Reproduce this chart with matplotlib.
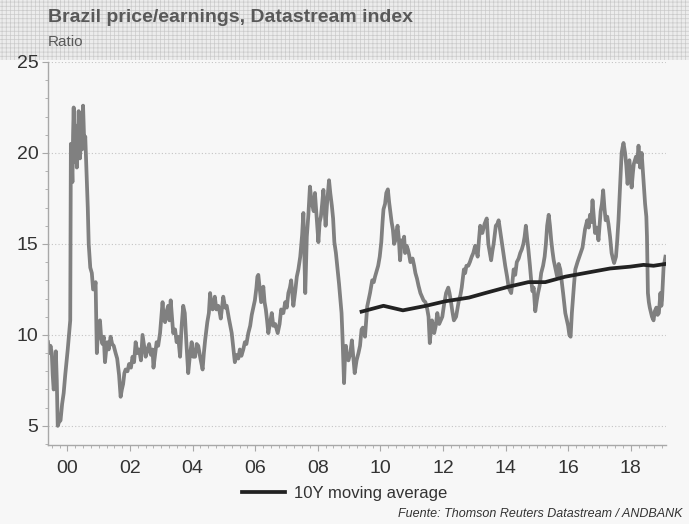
import matplotlib
matplotlib.use("Agg")
import matplotlib.pyplot as plt
from matplotlib.patches import Rectangle
from matplotlib.ticker import MultipleLocator, FixedLocator

plt.rcParams['font.family'] = ['Liberation Sans', 'DejaVu Sans']
plt.rcParams['hatch.linewidth'] = 0.5

# P/E ratio (decimal year, value)
pe_years = [
    1999.38, 1999.42, 1999.46, 1999.50, 1999.53, 1999.56, 1999.60, 1999.63, 1999.66, 1999.69,
    1999.73, 1999.78, 1999.83, 1999.88, 1999.93, 1999.97, 2000.01, 2000.05, 2000.09, 2000.11,
    2000.14, 2000.16, 2000.18, 2000.20, 2000.23, 2000.27, 2000.30, 2000.33, 2000.36, 2000.40,
    2000.44, 2000.47, 2000.50, 2000.54, 2000.57, 2000.61, 2000.65, 2000.68, 2000.73, 2000.78,
    2000.82, 2000.86, 2000.90, 2000.94, 2000.97, 2000.99, 2001.04, 2001.08, 2001.12, 2001.16,
    2001.20, 2001.24, 2001.27, 2001.32, 2001.38, 2001.43, 2001.48, 2001.54, 2001.59, 2001.65,
    2001.70, 2001.74, 2001.78, 2001.82, 2001.86, 2001.92, 2001.97, 2002.03, 2002.08, 2002.13,
    2002.18, 2002.24, 2002.29, 2002.35, 2002.40, 2002.45, 2002.50, 2002.56, 2002.61, 2002.67,
    2002.72, 2002.75, 2002.80, 2002.85, 2002.90, 2002.96, 2003.04, 2003.08, 2003.12, 2003.17,
    2003.22, 2003.26, 2003.30, 2003.34, 2003.38, 2003.44, 2003.49, 2003.54, 2003.60, 2003.65,
    2003.70, 2003.75, 2003.80, 2003.86, 2003.91, 2003.97, 2004.02, 2004.08, 2004.13, 2004.18,
    2004.25, 2004.32, 2004.36, 2004.40, 2004.47, 2004.52, 2004.56, 2004.60, 2004.64, 2004.71,
    2004.76, 2004.82, 2004.86, 2004.90, 2004.98, 2005.04, 2005.09, 2005.16, 2005.25, 2005.30,
    2005.35, 2005.40, 2005.46, 2005.51, 2005.56, 2005.62, 2005.67, 2005.72, 2005.78, 2005.84,
    2005.89, 2005.94, 2005.99, 2006.04, 2006.07, 2006.10, 2006.13, 2006.19, 2006.26, 2006.30,
    2006.34, 2006.38, 2006.42, 2006.47, 2006.53, 2006.58, 2006.64, 2006.72, 2006.78, 2006.83,
    2006.90, 2006.96, 2007.01, 2007.06, 2007.11, 2007.15, 2007.22, 2007.28, 2007.33, 2007.38,
    2007.44, 2007.50, 2007.54, 2007.57, 2007.60, 2007.63, 2007.65, 2007.70, 2007.75, 2007.79,
    2007.83, 2007.87, 2007.91, 2007.96, 2008.02, 2008.06, 2008.10, 2008.14, 2008.18, 2008.22,
    2008.25, 2008.30, 2008.36, 2008.40, 2008.45, 2008.49, 2008.53, 2008.58, 2008.63, 2008.68,
    2008.72, 2008.76, 2008.79, 2008.84, 2008.87, 2008.90, 2008.94, 2008.98, 2009.04, 2009.09,
    2009.14, 2009.18, 2009.24, 2009.30, 2009.35, 2009.40, 2009.44, 2009.51, 2009.58, 2009.62,
    2009.67, 2009.74, 2009.79, 2009.83, 2009.88, 2009.93, 2009.98, 2010.03, 2010.07, 2010.10,
    2010.15, 2010.19, 2010.24, 2010.28, 2010.31, 2010.36, 2010.40, 2010.44, 2010.48, 2010.52,
    2010.55, 2010.59, 2010.63, 2010.68, 2010.72, 2010.76, 2010.79, 2010.84, 2010.88, 2010.92,
    2010.96, 2011.03, 2011.08, 2011.12, 2011.17, 2011.22, 2011.28, 2011.33, 2011.38, 2011.44,
    2011.50, 2011.54, 2011.58, 2011.62, 2011.65, 2011.72, 2011.77, 2011.82, 2011.88, 2011.93,
    2011.98, 2012.03, 2012.10, 2012.17, 2012.21, 2012.25, 2012.30, 2012.35, 2012.42, 2012.46,
    2012.51, 2012.56, 2012.60, 2012.67, 2012.71, 2012.75, 2012.81, 2012.86, 2012.92, 2012.97,
    2013.03, 2013.11, 2013.15, 2013.19, 2013.26, 2013.33, 2013.40, 2013.45, 2013.50, 2013.54,
    2013.58, 2013.62, 2013.69, 2013.74, 2013.78, 2013.84, 2013.89, 2013.94, 2013.99, 2014.05,
    2014.10, 2014.18, 2014.22, 2014.26, 2014.31, 2014.36, 2014.42, 2014.47, 2014.52, 2014.57,
    2014.61, 2014.65, 2014.69, 2014.73, 2014.78, 2014.82, 2014.86, 2014.90, 2014.95, 2015.00,
    2015.04, 2015.09, 2015.14, 2015.20, 2015.25, 2015.29, 2015.33, 2015.38, 2015.42, 2015.46,
    2015.50, 2015.54, 2015.60, 2015.65, 2015.70, 2015.75, 2015.80, 2015.84, 2015.88, 2015.91,
    2015.96, 2016.00, 2016.04, 2016.08, 2016.12, 2016.15, 2016.19, 2016.23, 2016.30, 2016.38,
    2016.46, 2016.50, 2016.54, 2016.61, 2016.66, 2016.70, 2016.74, 2016.78, 2016.82, 2016.86,
    2016.92, 2016.97, 2017.00, 2017.04, 2017.08, 2017.12, 2017.16, 2017.20, 2017.25, 2017.29,
    2017.34, 2017.39, 2017.43, 2017.47, 2017.53, 2017.57, 2017.61, 2017.66, 2017.71, 2017.74,
    2017.77, 2017.82, 2017.86, 2017.90, 2017.96, 2018.03, 2018.07, 2018.10, 2018.17, 2018.21,
    2018.25, 2018.30, 2018.35, 2018.41, 2018.46, 2018.50, 2018.52, 2018.55, 2018.58, 2018.61,
    2018.65, 2018.68, 2018.73, 2018.77, 2018.82, 2018.86, 2018.90, 2018.93, 2018.95, 2018.98,
    2019.00, 2019.05, 2019.11,
]
pe_values = [
    9.6, 9.0, 9.4, 9.0, 7.8, 7.0, 7.3, 9.1, 7.5, 5.0,
    5.2, 5.3, 6.2, 6.8, 7.8, 8.5, 9.2, 10.0, 10.8, 20.5,
    19.5, 18.4, 21.0, 22.5, 19.5, 21.5, 19.2, 20.5, 22.3, 19.7,
    21.0, 20.2, 22.6, 20.4, 20.9, 19.0, 17.0, 15.0, 13.7, 13.4,
    12.5, 12.5, 12.9, 9.0, 10.0, 10.6, 10.8, 9.8, 9.5, 9.9,
    8.5, 9.2, 9.6, 9.2, 9.9, 9.5, 9.4, 9.0, 8.7, 7.8,
    6.6, 7.0, 7.3, 7.9, 8.1, 8.0, 8.4, 8.2, 8.8, 8.5,
    9.6, 9.0, 9.2, 8.6, 10.0, 9.4, 8.8, 9.2, 9.5, 8.9,
    9.2, 8.2, 8.9, 9.6, 9.4, 10.1, 11.8, 10.9, 10.7, 11.3,
    11.6, 10.8, 11.9, 11.0, 10.1, 10.3, 9.6, 9.9, 8.8, 10.5,
    11.6, 11.2, 9.6, 7.9, 8.8, 9.6, 8.8, 8.8, 9.5, 9.4,
    8.7, 8.1, 9.0, 9.7, 10.7, 11.2, 12.3, 11.6, 11.4, 12.1,
    11.4, 11.6, 11.3, 10.9, 12.1, 11.5, 11.6, 10.9, 10.1, 9.3,
    8.5, 8.9, 8.7, 9.2, 8.85, 9.2, 9.6, 9.5, 10.1, 10.5,
    11.1, 11.5, 11.9, 12.6, 13.2, 13.3, 12.8, 11.8, 12.65, 11.8,
    11.4, 10.8, 10.1, 10.6, 11.2, 10.5, 10.6, 10.1, 10.6, 11.4,
    11.2, 11.8, 11.5, 12.3, 12.6, 13.0, 11.6, 12.4, 13.2, 13.6,
    14.3, 15.5, 16.7, 14.5, 12.3, 14.3, 15.4, 16.6, 18.15, 17.5,
    17.1, 16.8, 17.8, 16.6, 15.1, 16.2, 16.5, 17.2, 17.97, 16.8,
    16.0, 17.3, 18.5, 17.8, 17.1, 16.4, 15.1, 14.5, 13.65, 12.8,
    12.0, 11.2, 9.9, 7.35, 8.8, 9.4, 8.7, 8.6, 9.0, 9.7,
    8.7, 7.9, 8.6, 9.0, 9.4, 10.3, 10.4, 9.9, 11.56, 11.9,
    12.3, 13.0, 12.9, 13.2, 13.5, 13.8, 14.3, 15.1, 16.2, 16.9,
    17.2, 17.8, 18.0, 17.3, 16.9, 16.2, 15.8, 15.0, 15.2, 15.7,
    16.0, 15.3, 14.1, 15.2, 14.9, 15.4, 14.5, 14.9, 14.7, 14.4,
    14.0, 14.2, 13.8, 13.4, 13.1, 12.7, 12.3, 12.1, 11.9, 11.8,
    11.4, 11.0, 9.55, 10.4, 10.8, 10.1, 10.5, 11.2, 10.6, 10.8,
    11.0, 11.6, 12.3, 12.6, 12.3, 11.9, 11.3, 10.8, 11.0, 11.4,
    11.9, 12.2, 12.6, 13.6, 13.4, 13.8, 13.8, 14.0, 14.3, 14.5,
    14.9, 14.3, 15.2, 16.0, 15.6, 16.1, 16.4, 15.0, 14.5, 14.1,
    14.6, 15.0, 16.0, 16.1, 16.3, 15.6, 15.0, 14.4, 13.8, 13.2,
    12.6, 12.3, 12.9, 13.6, 13.3, 14.0, 14.2, 14.5, 14.7, 15.0,
    15.4, 16.0, 15.3, 14.7, 13.8, 13.0, 12.4, 12.6, 11.3, 11.9,
    12.3, 12.7, 13.4, 13.8, 14.3, 15.0, 16.0, 16.6, 16.0, 15.2,
    14.6, 14.1, 13.6, 13.2, 13.9, 13.6, 12.9, 12.3, 11.7, 11.2,
    10.8, 10.5, 10.0, 9.9, 11.2, 11.9, 12.8, 13.6, 14.0, 14.4,
    14.8, 15.3, 15.8, 16.3, 15.9, 16.6, 16.2, 17.4, 16.5, 15.6,
    15.9, 15.2, 15.9, 16.8, 17.2, 17.95, 17.0, 16.3, 16.5, 16.1,
    15.4, 14.5, 14.2, 13.95, 14.3, 15.2, 16.3, 18.1, 20.0, 20.3,
    20.55, 20.0, 19.3, 18.3, 19.6, 18.1, 18.9, 19.4, 19.8, 19.5,
    20.4, 19.2, 20.0, 18.5, 17.2, 16.5, 15.4, 12.3, 11.8, 11.5,
    11.2, 11.0, 10.8, 11.3, 11.5, 11.1, 11.2, 11.9, 12.3, 11.6,
    11.9, 13.7, 14.3,
]

# 10Y moving average
ma_years = [2009.40, 2010.10, 2010.72, 2011.46, 2012.08, 2012.83, 2013.35, 2014.10,
            2014.73, 2015.27, 2015.91, 2016.70, 2017.34, 2017.98, 2018.41, 2018.73, 2019.11]
ma_values = [11.28, 11.6, 11.35, 11.6, 11.85, 12.05, 12.3, 12.65,
             12.9, 12.9, 13.2, 13.45, 13.65, 13.75, 13.85, 13.8, 13.9]

year_ticks = [2000, 2002, 2004, 2006, 2008, 2010, 2012, 2014, 2016, 2018]
year_labels = ['00', '02', '04', '06', '08', '10', '12', '14', '16', '18']

title = "Brazil price/earnings, Datastream index"
subtitle = "Ratio"
source = "Fuente: Thomson Reuters Datastream / ANDBANK"

bg = '#f7f7f7'
fig = plt.figure(figsize=(6.89, 5.24), dpi=100, facecolor=bg)

# patterned header band, kept behind the axes so the "25" label shows on top
band = Rectangle((0, 0.885), 1, 0.115, transform=fig.transFigure,
                 facecolor='#ececec', edgecolor='#cacaca', hatch='++++',
                 linewidth=0, zorder=-5)
fig.patches.append(band)

ax = fig.add_axes([0.0697, 0.1508, 0.897, 0.7309], facecolor=bg)
ax.set_zorder(2)

ax.plot(pe_years, pe_values, color='#808080', linewidth=2.7, solid_joinstyle='round')
ax.plot(ma_years, ma_values, color='#222222', linewidth=2.7, label='10Y moving average')

ax.set_xlim(1999.38, 2019.13)
ax.set_ylim(3.95, 25)

ax.yaxis.set_major_locator(MultipleLocator(5))
ax.yaxis.set_minor_locator(MultipleLocator(1))
ax.xaxis.set_major_locator(FixedLocator(year_ticks))
ax.set_xticklabels(year_labels)
ax.xaxis.set_minor_locator(MultipleLocator(0.25))

ax.grid(axis='y', which='major', linestyle=(0, (1, 2)), color='#c4c4c4', linewidth=0.8)
for s in ['top', 'right']:
    ax.spines[s].set_visible(False)
for s in ['left', 'bottom']:
    ax.spines[s].set_color('#a8a8a8')
    ax.spines[s].set_linewidth(1.0)

ax.tick_params(axis='both', which='major', length=4, color='#a8a8a8',
               labelsize=14, labelcolor='#333333')
ax.tick_params(axis='both', which='minor', length=2, color='#a8a8a8')
ax.tick_params(axis='x', which='major', pad=7)
ax.tick_params(axis='y', which='major', pad=3)

fig.text(0.0697, 0.967, title, fontsize=14, fontweight='bold', color='#595959',
         va='center', ha='left')
fig.text(0.0697, 0.92, subtitle, fontsize=11, color='#595959', va='center', ha='left')

fig.legend(loc='center', bbox_to_anchor=(0.5, 0.059), frameon=False, fontsize=12,
           handlelength=2.6, handletextpad=0.5, labelcolor='#333333')

fig.text(0.991, 0.019, source, fontsize=9, style='italic', color='#333333',
         ha='right', va='center')

fig.savefig('out.png', dpi=100, facecolor=bg)
